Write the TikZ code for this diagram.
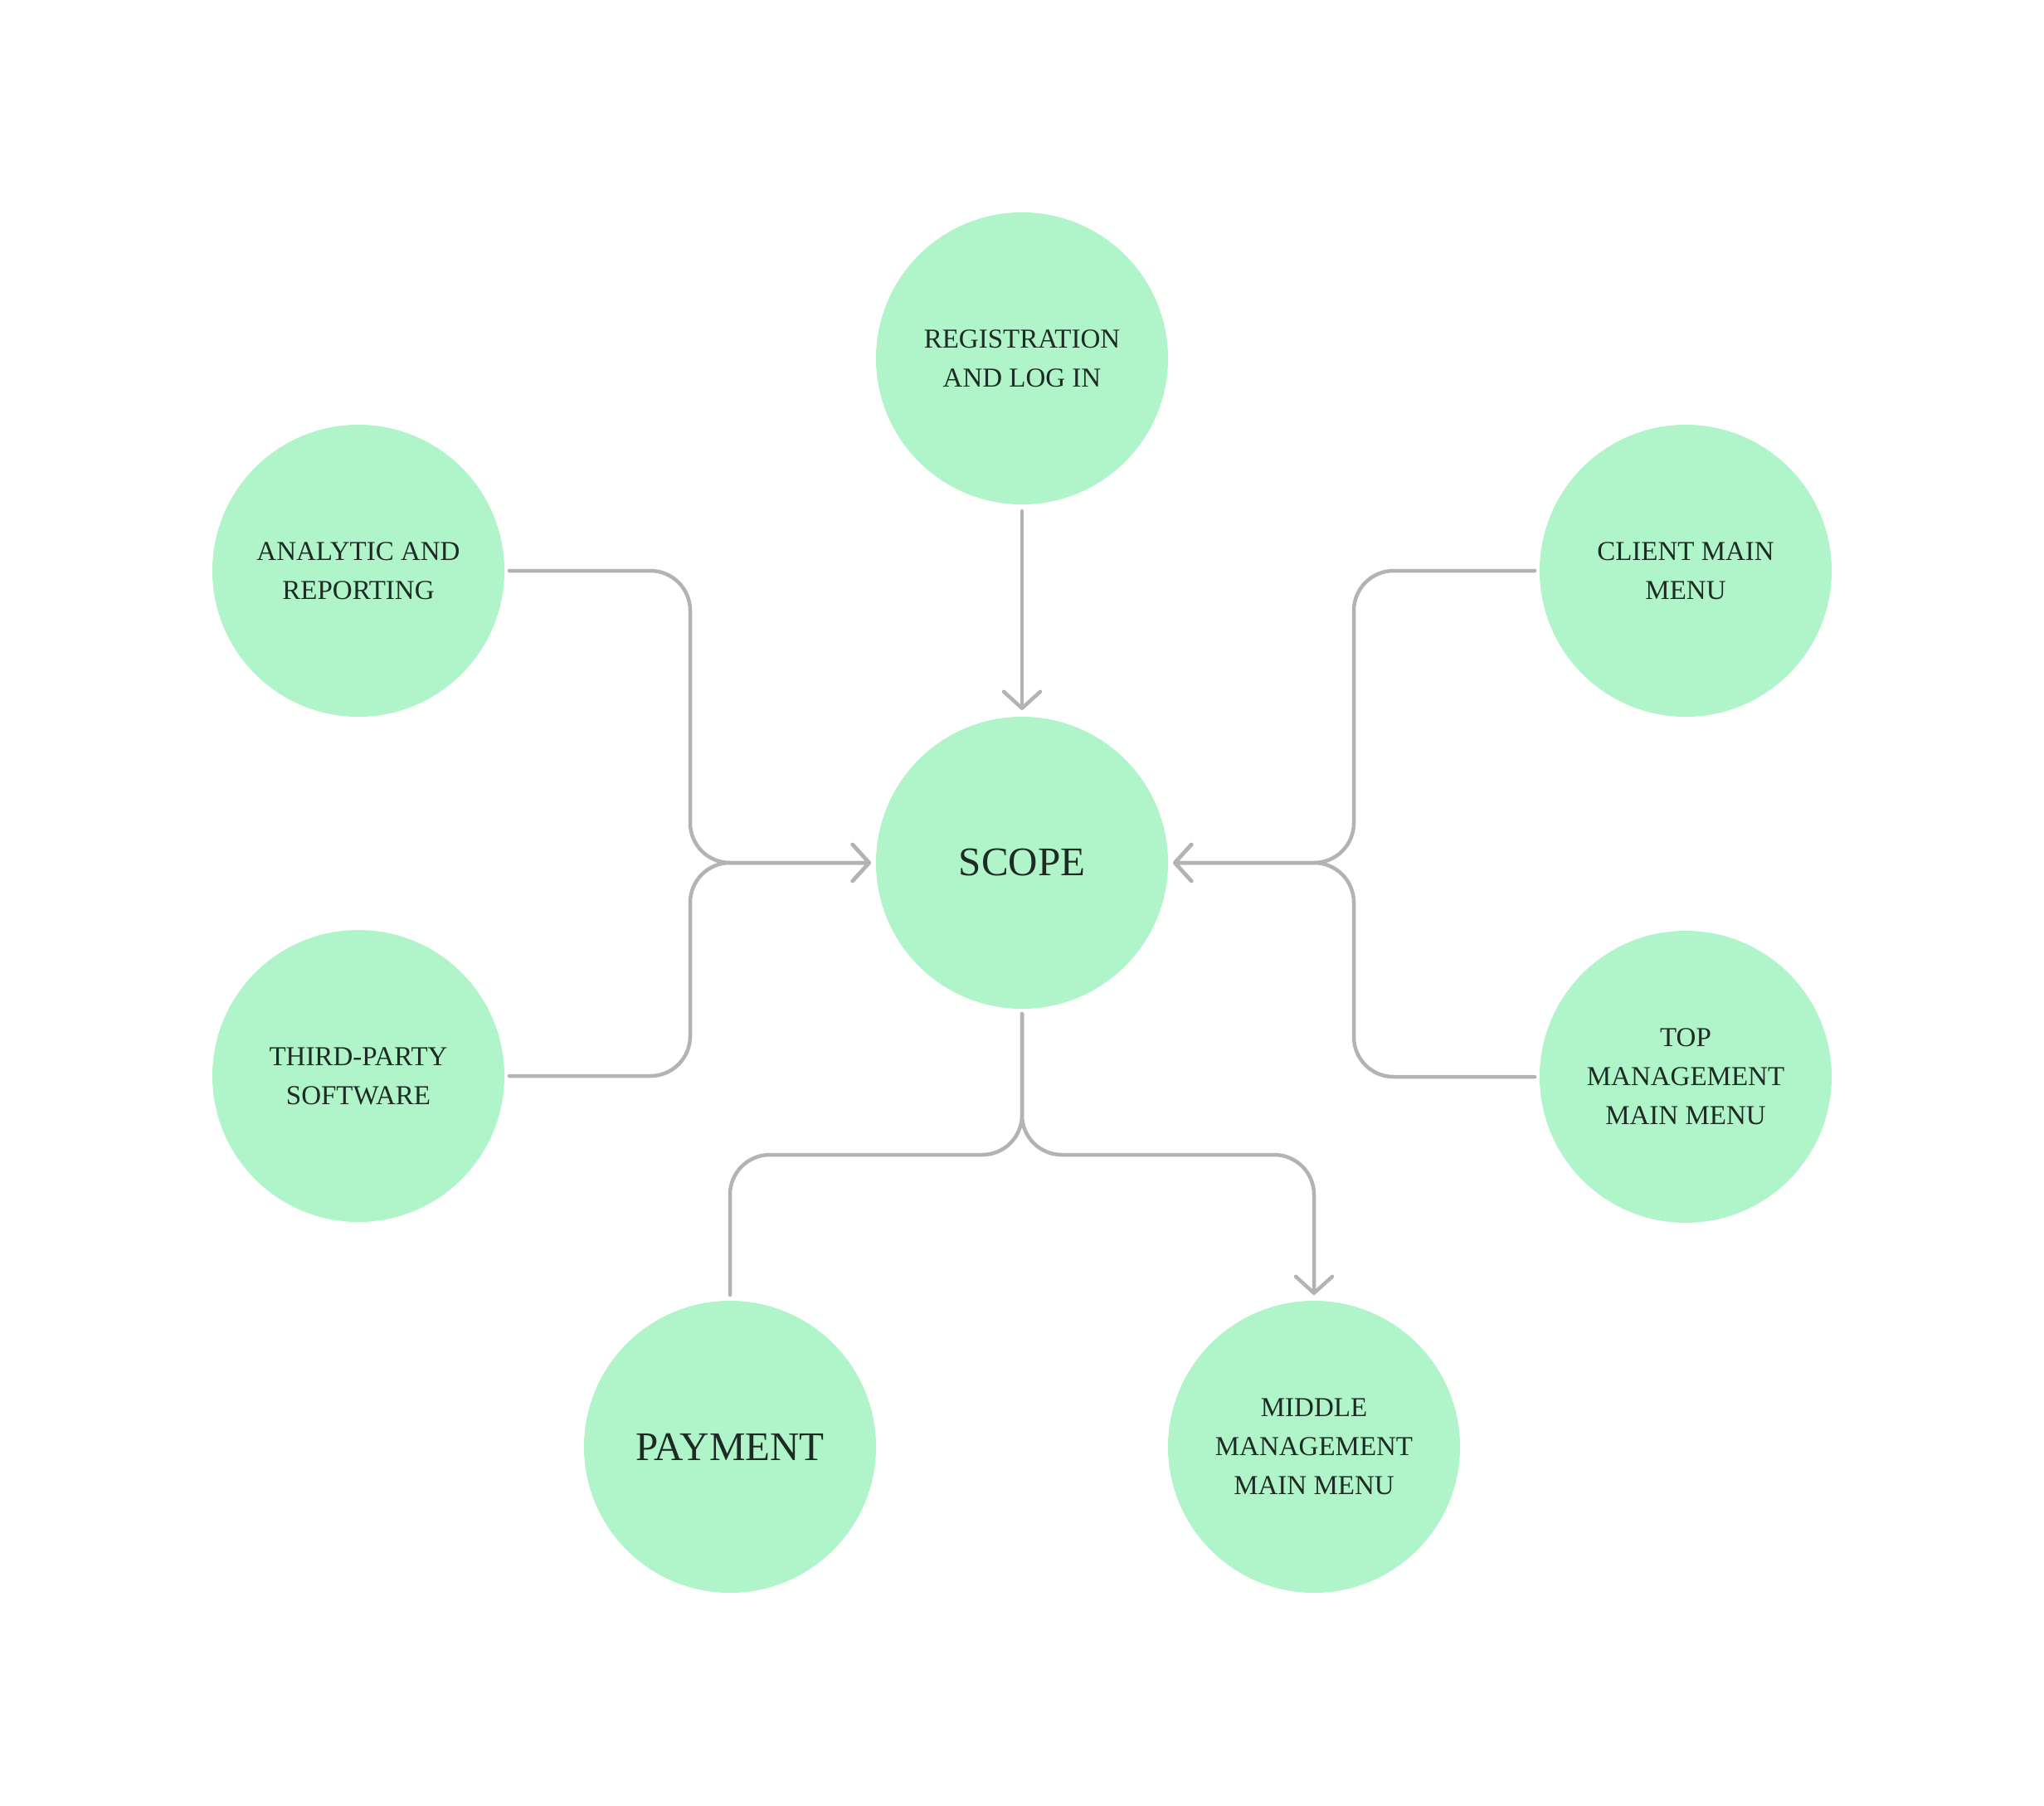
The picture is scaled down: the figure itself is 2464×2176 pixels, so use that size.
\documentclass[tikz,border=0pt]{standalone}
\usepackage{fontspec}
\setmainfont{Liberation Serif}
\usetikzlibrary{arrows.meta,calc}
\definecolor{bubble}{HTML}{AFF5C9}
\definecolor{wire}{HTML}{B3B3B3}
\definecolor{ink}{HTML}{1E2B24}
\tikzset{
  bubblenode/.style={circle, fill=bubble, draw=none, minimum size=352pt, inner sep=0pt, outer sep=0pt,
    text=ink, align=center, font=\fontsize{33}{47}\selectfont},
  bignode/.style={bubblenode, font=\fontsize{49}{58}\selectfont},
  conn/.style={draw=wire, line width=4.5pt, line cap=round, line join=round, rounded corners=48pt},
  tip/.style={-{Straight Barb[length=20pt,width=44pt,line cap=round,line join=round]}}
}
\begin{document}
\begin{tikzpicture}[x=1pt,y=-1pt]
\useasboundingbox (0,0) rectangle (2464,2176);
\node[bubblenode] (reg) at (1232,432) {REGISTRATION\\AND LOG IN};
\node[bignode] (scope) at (1232,1040) {SCOPE};
\node[bubblenode] (ana) at (432,688) {ANALYTIC AND\\REPORTING};
\node[bubblenode] (third) at (432,1297) {THIRD-PARTY\\SOFTWARE};
\node[bubblenode] (client) at (2032,688) {CLIENT MAIN\\MENU};
\node[bubblenode] (top) at (2032,1298) {TOP\\MANAGEMENT\\MAIN MENU};
\node[bignode] (pay) at (880,1744) {PAYMENT};
\node[bubblenode] (mid) at (1584,1744) {MIDDLE\\MANAGEMENT\\MAIN MENU};
\coordinate (lbus) at (832,1040);
\coordinate (rbus) at (1632,1040);
\coordinate (bbus) at (1232,1392);
% top
\draw[conn,tip] ([yshift=-8pt]reg.south) -- ([yshift=8pt]scope.north);
% left
\draw[conn,tip] ([xshift=6pt]ana.east) -| (lbus) -- ([xshift=-6pt]scope.west);
\draw[conn,tip] ([xshift=6pt]third.east) -| (lbus) -- ([xshift=-6pt]scope.west);
% right
\draw[conn,tip] ([xshift=-6pt]client.west) -| (rbus) -- ([xshift=6pt]scope.east);
\draw[conn,tip] ([xshift=-6pt]top.west) -| (rbus) -- ([xshift=6pt]scope.east);
% bottom
\draw[conn] ([yshift=-6pt]scope.south) -- (bbus) -| ([yshift=7pt]pay.north);
\draw[conn,tip] ([yshift=-6pt]scope.south) -- (bbus) -| ([yshift=7pt]mid.north);
\end{tikzpicture}
\end{document}
